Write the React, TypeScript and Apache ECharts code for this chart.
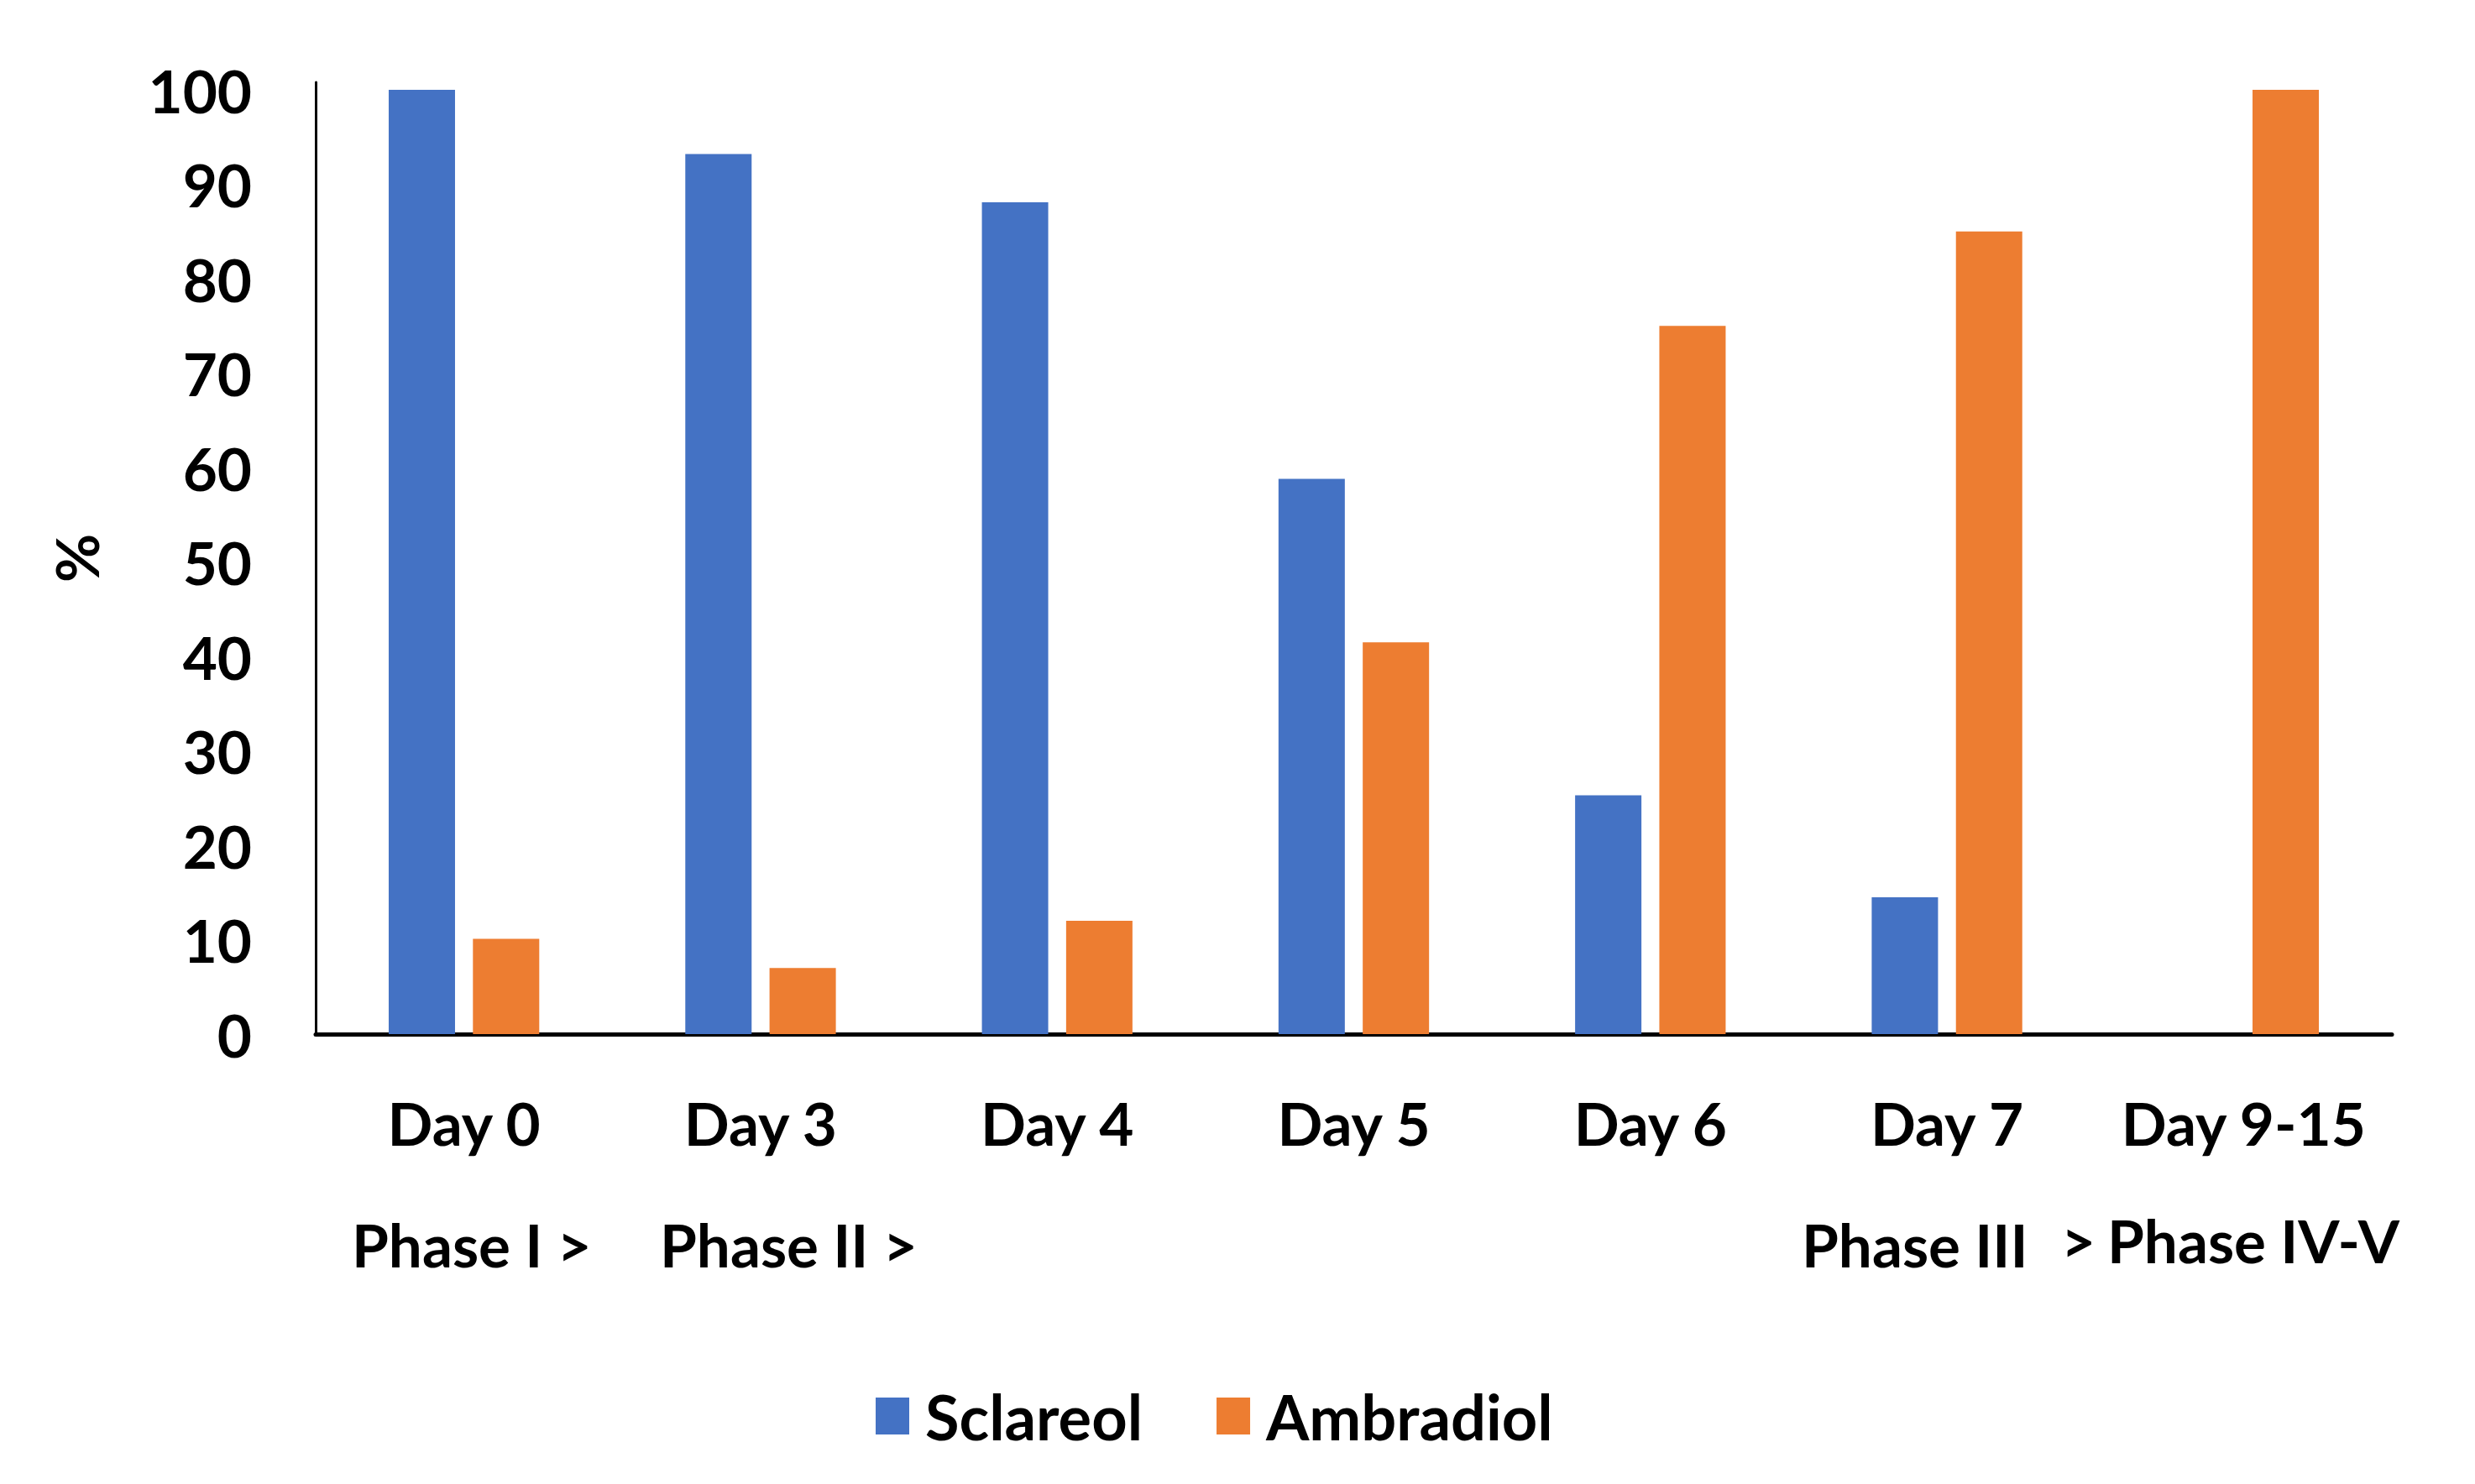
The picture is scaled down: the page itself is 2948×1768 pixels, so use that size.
import React, { useEffect, useRef } from "react";
import * as echarts from "echarts";

const categories = ["Day 0", "Day 3", "Day 4", "Day 5", "Day 6", "Day 7", "Day 9-15"];
const sclareol = [100, 93.2, 88.1, 58.8, 25.3, 14.5, 0];
const ambradiol = [10.1, 7.0, 12.0, 41.5, 75.0, 85.0, 100];
const seriesNames = ["Sclareol", "Ambradiol"];
const phaseLabels = ["Phase I >", "Phase II >", "Phase III", ">", "Phase IV-V"];
const yAxisName = "%";

const FONT = "Lato";
const BLUE = "#4472C4";
const ORANGE = "#ED7D31";

export default function App() {
  const ref = useRef<HTMLDivElement>(null);
  useEffect(() => {
    if (!ref.current) return;
    const chart = echarts.init(ref.current, undefined, { renderer: "svg" });
    const textStyle = { fontFamily: FONT, fontWeight: "bold" as const, fontSize: 71, color: "#000" };
    const phasePos = [
      { x: 419, y: 1482 },
      { x: 786, y: 1482 },
      { x: 2146, y: 1482 },
      { x: 2455, y: 1477 },
      { x: 2510, y: 1477 },
    ];
    chart.setOption({
      animation: false,
      backgroundColor: "#ffffff",
      grid: { left: 376, right: 99, top: 98, bottom: 536, containLabel: false },
      legend: {
        data: seriesNames,
        left: 1038,
        top: 1645,
        icon: "rect",
        itemWidth: 40,
        itemHeight: 44,
        itemGap: 88,
        textStyle: { ...textStyle, fontSize: 74, padding: [0, 0, 0, 14] },
      },
      xAxis: {
        type: "category",
        data: categories,
        axisLine: { lineStyle: { color: "#000", width: 5 } },
        axisTick: { show: false },
        axisLabel: { ...textStyle, margin: 70, interval: 0 },
      },
      yAxis: {
        type: "value",
        min: 0,
        max: 100.8,
        interval: 10,
        name: yAxisName,
        nameLocation: "middle",
        nameRotate: 90,
        nameGap: 250,
        nameTextStyle: { ...textStyle },
        axisLine: { show: true, lineStyle: { color: "#000", width: 3 } },
        axisTick: { show: false },
        splitLine: { show: false },
        axisLabel: { ...textStyle, margin: 76, showMaxLabel: false },
      },
      series: [
        {
          name: seriesNames[0],
          type: "bar",
          data: sclareol,
          barWidth: 79,
          barGap: "27%",
          itemStyle: { color: BLUE },
        },
        {
          name: seriesNames[1],
          type: "bar",
          data: ambradiol,
          barWidth: 79,
          barGap: "27%",
          itemStyle: { color: ORANGE },
        },
      ],
      graphic: phaseLabels.map((t, i) => ({
        type: "text",
        x: phasePos[i].x,
        y: phasePos[i].y,
        style: {
          text: t,
          font: `bold 71px ${FONT}`,
          fill: "#000",
          align: "left",
          verticalAlign: "middle",
        },
      })),
    });
    return () => chart.dispose();
  }, []);
  return (
    <div
      ref={ref}
      style={{ position: "fixed", left: 0, top: 0, width: 2948, height: 1768, background: "#fff" }}
    />
  );
}
